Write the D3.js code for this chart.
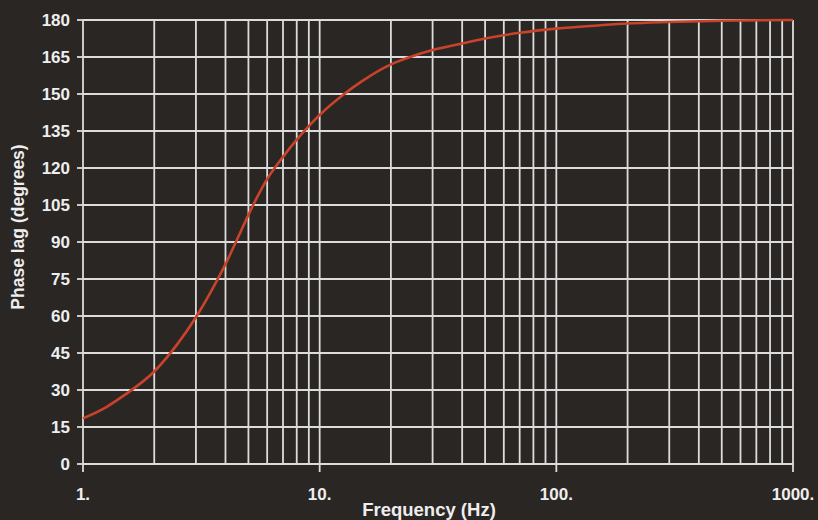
<!DOCTYPE html>
<html>
<head>
<meta charset="utf-8">
<script src="https://cdn.jsdelivr.net/npm/d3@7"></script>
<style>
  body { margin: 0; background: #2a2624; }
  text { font-family: "Liberation Sans", Arial, sans-serif; font-weight: bold; fill: #eeeeee; }
</style>
</head>
<body>
<svg id="chart" width="818" height="520"></svg>
<script>
// frequency (Hz) and phase lag (degrees)
var freq = [1, 1.25, 1.5, 2, 2.5, 3, 3.5, 4, 4.5, 5, 5.5, 6, 7, 8, 9, 10, 12.5, 15, 20, 25, 30, 40, 50, 70, 100, 150, 200, 300, 500, 1000]
var phase = [18.5, 23, 28, 37.5, 48.5, 59.5, 70.5, 81, 91.5, 101, 109, 115.5, 124.5, 131.5, 137, 141.5, 149.5, 155, 162, 165.5, 167.8, 170.5, 172.5, 174.8, 176.5, 177.8, 178.6, 179.2, 179.7, 180]

var yTicks = [0, 15, 30, 45, 60, 75, 90, 105, 120, 135, 150, 165, 180]
var xDecades = [1, 10, 100, 1000]
var xLabels = ["1.", "10.", "100.", "1000."]

var width = 818
var height = 520
var margin = { top: 20, right: 25, bottom: 56, left: 83 }

var svg = d3.select("#chart")

// scales
var x = d3.scaleLog()
    .domain([1, 1000])
    .range([margin.left, width - margin.right])

var y = d3.scaleLinear()
    .domain([0, 180])
    .range([height - margin.bottom, margin.top])

// minor lines: 1..9 in each decade
var minor = []
xDecades.slice(0, 3).forEach(function (d) {
    for (var k = 1; k < 10; k++) minor.push(d * k)
})
minor.push(1000)

var grid = svg.append("g")
    .attr("stroke", "#dcdcdc")
    .attr("stroke-width", 1.8)

grid.selectAll(".vline")
    .data(minor)
    .enter()
    .append("line")
    .attr("x1", (d) => x(d))
    .attr("x2", (d) => x(d))
    .attr("y1", y(180))
    .attr("y2", y(0))

grid.selectAll(".hline")
    .data(yTicks)
    .enter()
    .append("line")
    .attr("x1", x(1))
    .attr("x2", x(1000))
    .attr("y1", (d) => y(d))
    .attr("y2", (d) => y(d))

// small outward ticks
grid.selectAll(".ytick")
    .data(yTicks)
    .enter()
    .append("line")
    .attr("x1", x(1) - 6)
    .attr("x2", x(1))
    .attr("y1", (d) => y(d))
    .attr("y2", (d) => y(d))

grid.selectAll(".xtick")
    .data(xDecades)
    .enter()
    .append("line")
    .attr("x1", (d) => x(d))
    .attr("x2", (d) => x(d))
    .attr("y1", y(0))
    .attr("y2", y(0) + 8)

// tick labels
svg.append("g").selectAll("text")
    .data(yTicks)
    .enter()
    .append("text")
    .attr("x", x(1) - 13)
    .attr("y", (d) => y(d))
    .attr("dy", "0.36em")
    .attr("text-anchor", "end")
    .attr("font-size", "17px")
    .text((d) => d)

svg.append("g").selectAll("text")
    .data(xDecades)
    .enter()
    .append("text")
    .attr("x", (d) => x(d))
    .attr("y", 500)
    .attr("text-anchor", "middle")
    .attr("font-size", "17px")
    .text((d, i) => xLabels[i])

// axis titles
svg.append("text")
    .attr("x", 429)
    .attr("y", 516)
    .attr("text-anchor", "middle")
    .attr("font-size", "18.5px")
    .text("Frequency (Hz)")

svg.append("text")
    .attr("transform", "translate(24,227) rotate(-90)")
    .attr("text-anchor", "middle")
    .attr("font-size", "17.5px")
    .text("Phase lag (degrees)")

// the curve
var line = d3.line()
    .x((d, i) => x(freq[i]))
    .y((d) => y(d))
    .curve(d3.curveMonotoneX)

svg.append("path")
    .datum(phase)
    .attr("d", line)
    .attr("fill", "none")
    .attr("stroke", "#c9432b")
    .attr("stroke-width", 2.6)
</script>
</body>
</html>
